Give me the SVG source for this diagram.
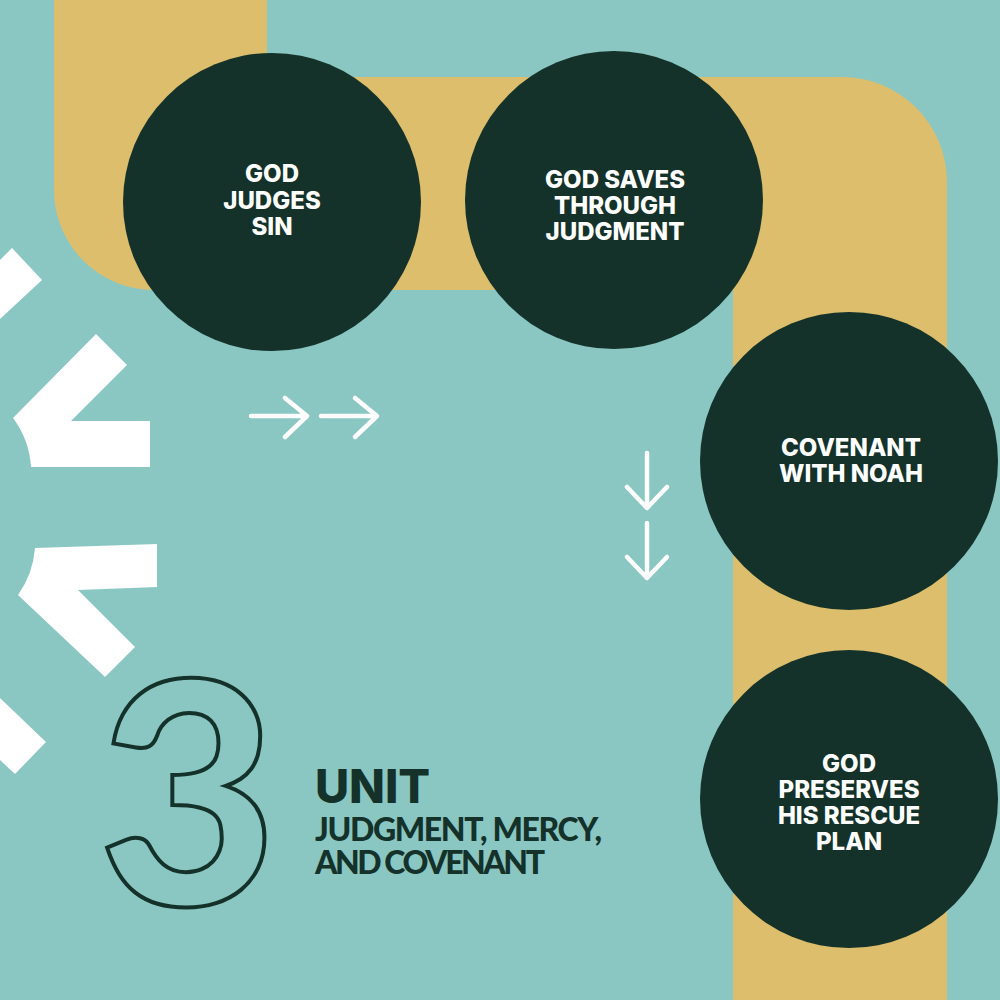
<svg xmlns="http://www.w3.org/2000/svg" width="1000" height="1000" viewBox="0 0 1000 1000">
<style>
.node circle{fill:#14322A}
.lbl{font-family:Inter,Lato,"Liberation Sans",sans-serif;font-weight:800;font-size:24px;fill:#FFFFFF;text-anchor:middle}
.deco{fill:#FFFFFF}
.arr{fill:none;stroke:#FFFFFF;stroke-width:4.5;stroke-linecap:round;stroke-linejoin:round}
.title{font-family:Lato,Inter,"Liberation Sans",sans-serif;font-weight:900;fill:#14322A}
</style>
<rect width="1000" height="1000" fill="#8AC7C3"/>
<path id="path-band" d="M54,0 H267 V77 H842 A105,105 0 0 1 947,182 V1000 H733 V290 H154 A100,100 0 0 1 54,190 Z" fill="#DDBE6C"/>
<g id="decor">
<polygon class="deco" points="0,260 12,248 42,280 0,319"/>
<path class="deco" d="M96,334 L127,365 L71,421 H150 V467 H31 A91,91 0 0 0 13,418 Z"/>
<path class="deco" d="M35,548 L157,544 V587 L78,590 L135,647 L105,677 L18,595 A94,94 0 0 0 35,548 Z"/>
<polygon class="deco" points="0,698 46,742 15,774 0,760"/>
</g>
<g id="connectors">
<path class="arr" d="M251,416 H306 M285,398 L307,416 L285,437"/>
<path class="arr" d="M321,416 H376 M355,398 L377,416 L355,437"/>
<path class="arr" d="M647,453 V508 M627,487 L647,508 L667,487"/>
<path class="arr" d="M647,523 V578 M627,557 L647,578 L667,557"/>
</g>
<g id="node-judges" class="node">
<circle cx="272" cy="202" r="149"/>
<text class="lbl" x="272" y="182">GOD</text>
<text class="lbl" x="272" y="209">JUDGES</text>
<text class="lbl" x="272" y="235">SIN</text>
</g>
<g id="node-saves" class="node">
<circle cx="614" cy="200" r="149"/>
<text class="lbl" x="615" y="188">GOD SAVES</text>
<text class="lbl" x="615" y="214">THROUGH</text>
<text class="lbl" x="615" y="240">JUDGMENT</text>
</g>
<g id="node-covenant" class="node">
<circle cx="849" cy="461" r="149"/>
<text class="lbl" x="851" y="456">COVENANT</text>
<text class="lbl" x="851" y="482">WITH NOAH</text>
</g>
<g id="node-preserves" class="node">
<circle cx="849" cy="799" r="149"/>
<text class="lbl" x="849" y="772">GOD</text>
<text class="lbl" x="849" y="798">PRESERVES</text>
<text class="lbl" x="849" y="824">HIS RESCUE</text>
<text class="lbl" x="849" y="850">PLAN</text>
</g>
<g id="unit-title">
<text x="188" y="905" font-family="Lato,'Noto Sans','Liberation Sans',sans-serif" font-weight="900" font-size="310" text-anchor="middle" fill="none" stroke="#14322A" stroke-width="4">3</text>
<text x="315" y="803" font-family="Inter,Lato,sans-serif" font-weight="800" font-size="47" fill="#14322A" textLength="115" lengthAdjust="spacing">UNIT</text>
<text class="title" x="315" y="841" font-size="32" textLength="287" lengthAdjust="spacing">JUDGMENT, MERCY,</text>
<text class="title" x="315" y="874" font-size="32" textLength="230" lengthAdjust="spacing">AND COVENANT</text>
</g>
</svg>
